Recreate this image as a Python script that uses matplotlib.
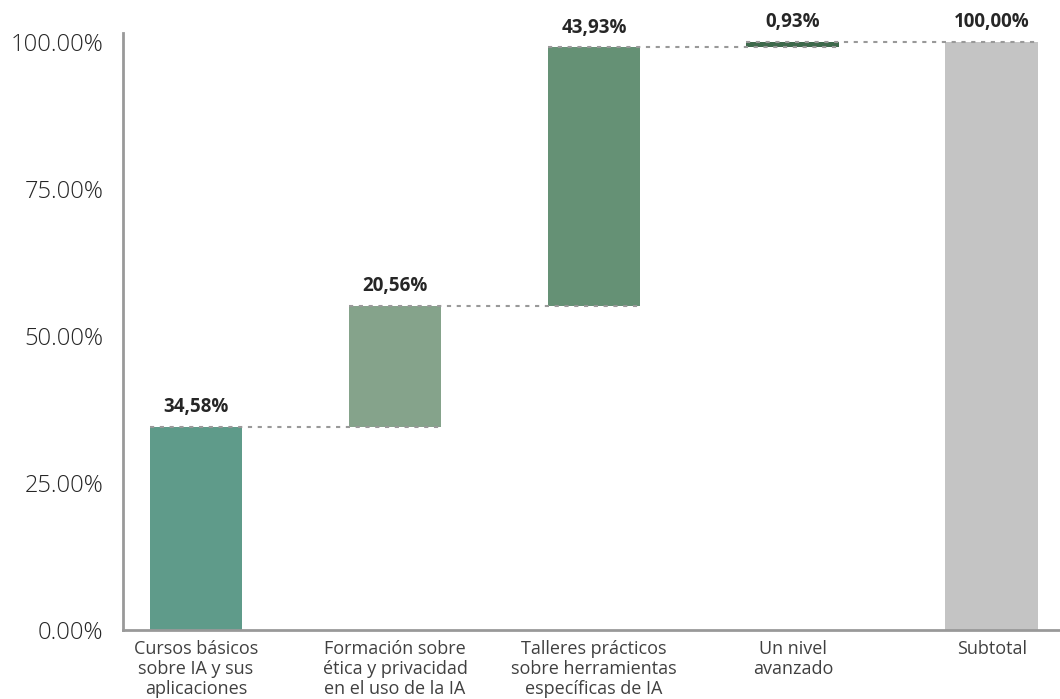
import numpy as np
import matplotlib.pyplot as plt

# Data
categories = ['Cursos básicos\nsobre IA y sus\naplicaciones',
              'Formación sobre\nética y privacidad\nen el uso de la IA',
              'Talleres prácticos\nsobre herramientas\nespecíficas de IA',
              'Un nivel\navanzado',
              'Subtotal']
steps = [34.58, 20.56, 43.93, 0.93]
subtotal = 100.00
bar_labels = ['34,58%', '20,56%', '43,93%', '0,93%', '100,00%']
bar_colors = ['#5f9b8a', '#85a38b', '#659175', '#3e6a4c', '#c4c4c4']

plt.rcParams['font.family'] = ['Open Sans', 'DejaVu Sans']

fig = plt.figure(figsize=(10.6, 6.99), dpi=100)
ax = fig.add_axes([0.116, 0.0987, 0.884, 0.854])

x = np.arange(len(categories))
width = 0.467

# waterfall bottoms / heights
bottoms = list(np.cumsum([0] + steps[:-1])) + [0]
heights = steps + [subtotal]
tops = [b + h for b, h in zip(bottoms, heights)]

ax.bar(x, heights, width, bottom=bottoms, color=bar_colors, zorder=2)

# connector lines from bar i left edge to bar i+1 right edge
for i in range(len(categories) - 1):
    ax.plot([x[i] - width / 2, x[i + 1] + width / 2], [tops[i], tops[i]],
            color='#999999', lw=1.5, linestyle=(0, (2, 2.7)), zorder=3)

for xi, t, lab in zip(x, tops, bar_labels):
    ax.annotate(lab, (xi, t), xytext=(0, 7), textcoords='offset points',
                ha='center', va='bottom', fontsize=13.5, fontweight='bold',
                color='#262626')

ax.set_xlim(-0.367, 4.342)
ax.set_ylim(0, 101.5)
ax.set_yticks([0, 25, 50, 75, 100])
ax.set_yticklabels(['0.00%', '25.00%', '50.00%', '75.00%', '100.00%'])
ax.set_xticks(x)
ax.set_xticklabels(categories, fontsize=13, color='#404040', linespacing=1.15)
ax.tick_params(axis='y', length=0, pad=14, labelsize=17, labelcolor='#262626')
ax.tick_params(axis='x', length=0, pad=7)
for lbl in ax.get_yticklabels():
    lbl.set_fontweight('light')

for s in ['top', 'right']:
    ax.spines[s].set_visible(False)
for s in ['left', 'bottom']:
    ax.spines[s].set_color('#999999')
    ax.spines[s].set_linewidth(2)

fig.savefig('out.png', dpi=100)
